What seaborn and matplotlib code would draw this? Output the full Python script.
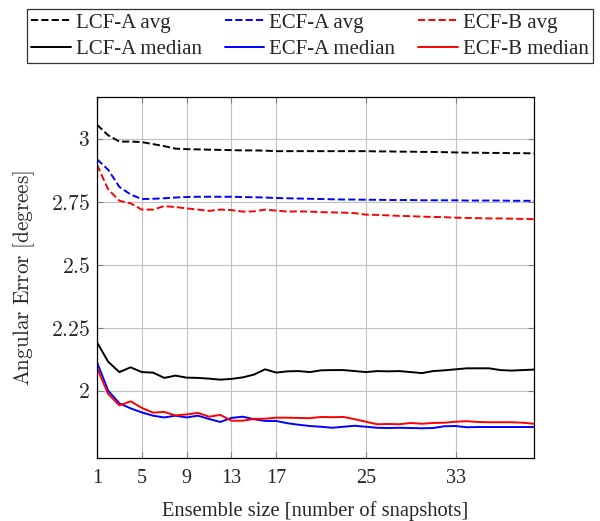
import numpy as np
import pandas as pd
import matplotlib
matplotlib.use("Agg")
import matplotlib.pyplot as plt
import seaborn as sns

x = list(range(1, 41))

lcf_a_avg = [3.057, 3.015, 2.990, 2.990, 2.988, 2.980, 2.972, 2.962, 2.960, 2.959,
             2.958, 2.957, 2.956, 2.955, 2.955, 2.954, 2.952, 2.952, 2.952, 2.952,
             2.952, 2.952, 2.952, 2.952, 2.952, 2.951, 2.951, 2.950, 2.950, 2.949,
             2.949, 2.948, 2.947, 2.946, 2.946, 2.945, 2.945, 2.944, 2.944, 2.943]
ecf_a_avg = [2.920, 2.878, 2.810, 2.780, 2.762, 2.763, 2.765, 2.768, 2.770, 2.771,
             2.771, 2.771, 2.771, 2.770, 2.769, 2.768, 2.766, 2.765, 2.764, 2.763,
             2.762, 2.761, 2.760, 2.760, 2.759, 2.759, 2.758, 2.758, 2.758, 2.757,
             2.757, 2.757, 2.757, 2.756, 2.756, 2.756, 2.756, 2.755, 2.755, 2.755]
ecf_b_avg = [2.898, 2.800, 2.755, 2.745, 2.720, 2.720, 2.734, 2.730, 2.725, 2.720,
             2.715, 2.720, 2.718, 2.712, 2.713, 2.720, 2.716, 2.712, 2.713, 2.712,
             2.710, 2.709, 2.708, 2.706, 2.700, 2.699, 2.697, 2.695, 2.694, 2.692,
             2.691, 2.690, 2.688, 2.687, 2.686, 2.685, 2.685, 2.684, 2.683, 2.682]
lcf_a_med = [2.193, 2.116, 2.075, 2.094, 2.075, 2.073, 2.052, 2.061, 2.053, 2.052,
             2.049, 2.045, 2.048, 2.054, 2.065, 2.086, 2.073, 2.078, 2.079, 2.075,
             2.082, 2.083, 2.083, 2.079, 2.075, 2.079, 2.078, 2.079, 2.075, 2.071,
             2.079, 2.082, 2.086, 2.090, 2.090, 2.090, 2.083, 2.081, 2.083, 2.085]
ecf_a_med = [2.114, 2.001, 1.951, 1.931, 1.915, 1.902, 1.895, 1.902, 1.895, 1.902,
             1.889, 1.877, 1.893, 1.898, 1.888, 1.881, 1.881, 1.872, 1.866, 1.861,
             1.858, 1.854, 1.858, 1.862, 1.858, 1.854, 1.853, 1.854, 1.853, 1.852,
             1.853, 1.860, 1.861, 1.856, 1.857, 1.857, 1.857, 1.857, 1.857, 1.857]
ecf_b_med = [2.091, 1.988, 1.943, 1.959, 1.933, 1.914, 1.917, 1.903, 1.907, 1.913,
             1.898, 1.905, 1.882, 1.882, 1.889, 1.890, 1.894, 1.894, 1.893, 1.892,
             1.897, 1.896, 1.897, 1.888, 1.878, 1.868, 1.869, 1.868, 1.873, 1.870,
             1.873, 1.874, 1.878, 1.880, 1.877, 1.876, 1.876, 1.876, 1.874, 1.870]

series = [
    ("LCF-A avg", lcf_a_avg, "black", "--"),
    ("ECF-A avg", ecf_a_avg, "blue", "--"),
    ("ECF-B avg", ecf_b_avg, "red", "--"),
    ("LCF-A median", lcf_a_med, "black", "-"),
    ("ECF-A median", ecf_a_med, "blue", "-"),
    ("ECF-B median", ecf_b_med, "red", "-"),
]

xticks = [1, 5, 9, 13, 17, 25, 33]
yticks = [2.0, 2.25, 2.5, 2.75, 3.0]
ytick_labels = ["2", "2.25", "2.5", "2.75", "3"]

sns.set_style("white")
plt.rcParams['font.family'] = ['Liberation Serif', 'DejaVu Serif']
plt.rcParams['mathtext.fontset'] = 'cm'

fig = plt.figure(figsize=(6.0, 5.21), dpi=100)
ax = fig.add_axes([97/600, 1 - 458/521, (534-97)/600, (458-97)/521])

for name, vals, color, ls in series:
    df = pd.DataFrame({"x": x, "y": vals})
    sns.lineplot(data=df, x="x", y="y", ax=ax, color=color, linestyle=ls,
                 linewidth=1.4, label=name)

ax.set_xlim(1, 40)
ax.set_ylim(1.734, 3.167)
ax.set_xticks(xticks)
ax.set_xticklabels([str(t) for t in xticks], fontsize=14.5)
ax.set_yticks(yticks)
ax.set_yticklabels(["$" + s + "$" for s in ytick_labels], fontsize=15.5)
ax.grid(True, color="#c0c0c0", linewidth=0.8)
ax.tick_params(direction="in", length=4, width=0.8, color="#808080",
               top=True, right=True, bottom=True, left=True)
ax.tick_params(axis="x", pad=8)
ax.tick_params(axis="y", pad=5)
for sp in ax.spines.values():
    sp.set_color("black")
    sp.set_linewidth(0.9)
ax.set_xlabel("Ensemble size [number of snapshots]", fontsize=14.8, labelpad=9)
ax.set_ylabel(r"$\mathrm{Angular\ Error\ [degrees]}$", fontsize=15.3, labelpad=10)

handles, labels = ax.get_legend_handles_labels()
ax.get_legend().remove()
order = [0, 3, 1, 4, 2, 5]
handles = [handles[i] for i in order]
labels = [labels[i] for i in order]
leg = fig.legend(handles, labels, loc="center", ncol=3,
                 bbox_to_anchor=(27/600, 1 - 68/521, (593-27)/600, (68-4)/521),
                 mode="expand", fontsize=15, frameon=True, fancybox=False,
                 edgecolor="black", handlelength=1.9, handletextpad=0.25,
                 columnspacing=0.3, borderaxespad=0, labelspacing=0.32,
                 borderpad=0.2)
leg.get_frame().set_linewidth(0.9)

fig.savefig("out.png", dpi=100)
